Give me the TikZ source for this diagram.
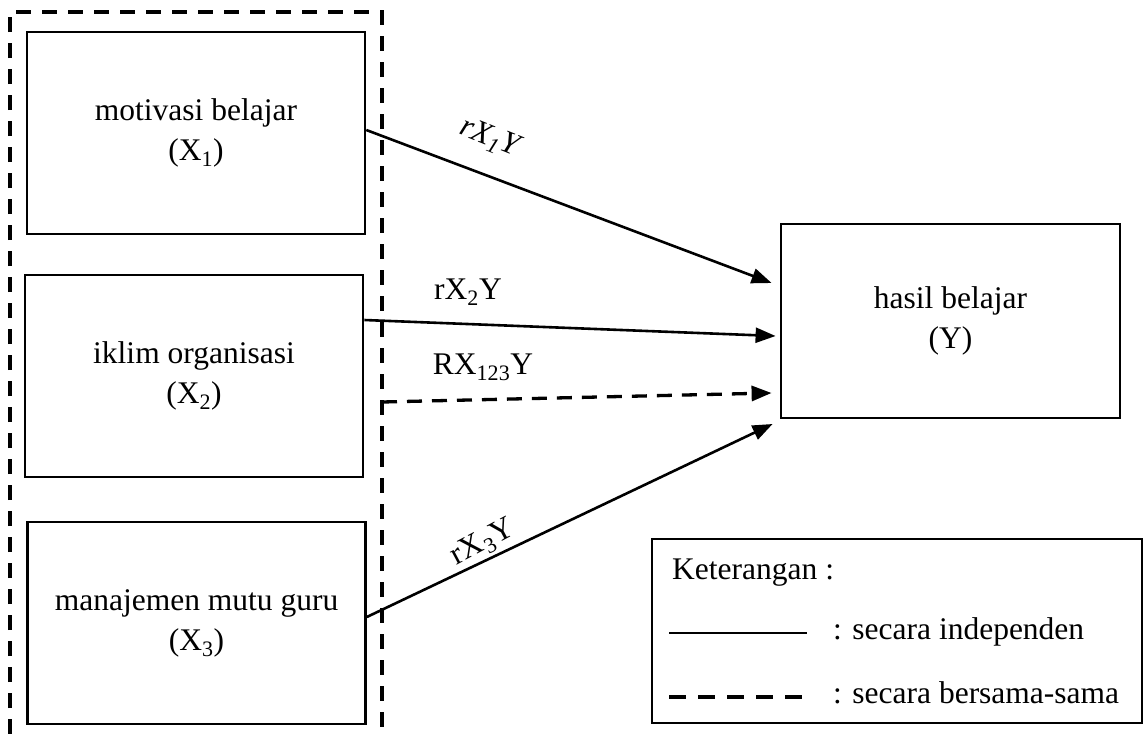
\documentclass[tikz,border=0pt]{standalone}
\usepackage{fontspec}
\setmainfont{Liberation Serif}
\usetikzlibrary{arrows.meta}
\begin{document}
\begin{tikzpicture}[x=1pt,y=-1pt,
  txt/.style={font=\fontsize{31.5}{40}\selectfont},
  varbox/.style={draw,line width=2.6pt,align=center,inner sep=0pt,
    minimum width=338pt,minimum height=202pt,txt},
  link/.style={line width=2.6pt,-{Triangle[length=20pt,width=15pt]}},
  joint/.style={line width=3.3pt,dash pattern=on 15pt off 10pt,
    -{Triangle[length=20pt,width=15pt]}},
  lbl/.style={txt,inner sep=0pt}]
\useasboundingbox (0,0) rectangle (1144,734);

% group of independent variables
\draw[line width=3.6pt,dash pattern=on 15pt off 11pt]
  (10,760) -- (10,12) -- (382,12) -- (382,760);
\coordinate (gx) at (382,402);

\node[varbox] (b1) at (196,133) {motivasi belajar\\(X\textsubscript{1})};
\node[varbox] (b2) at (194,376) {iklim organisasi\\(X\textsubscript{2})};
\node[varbox] (b3) at (196.5,623) {manajemen mutu guru\\(X\textsubscript{3})};
\node[varbox,minimum width=339pt,minimum height=194pt,line width=2.8pt]
  (y) at (950.5,321) {hasil belajar\\(Y)};

% connectors
\draw[link] ([yshift=3pt]b1.east) -- ([xshift=-8pt,yshift=38pt]y.west);
\draw[link] ([yshift=56pt]b2.east) -- ([xshift=-4pt,yshift=-15pt]y.west);
\draw[joint] (gx) -- ([xshift=-8pt,yshift=-72pt]y.west);
\draw[link] ([yshift=6pt]b3.east) -- ([xshift=-7pt,yshift=-103pt]y.west);

% path labels
\node[lbl,rotate=-22] (l1) at (489,138) {\itshape rX\textsubscript{1}Y};
\node[lbl] (l2) at (468,292) {rX\textsubscript{2}Y};
\node[lbl] (l3) at (483,367) {RX\textsubscript{123}Y};
\node[lbl,rotate=28] (l4) at (483,543) {rX\textsubscript{3}Y};

% legend
\node[draw,line width=1.5pt,minimum width=490pt,minimum height=184pt,inner sep=0pt]
  (leg) at (897,631) {};
\node[lbl,anchor=base west] (k0) at (672,579) {Keterangan :};
\coordinate (s0) at (669,633);
\coordinate (s1) at (807,633);
\draw[line width=2.4pt] (s0) -- (s1);
\node[lbl,anchor=base west] (k1) at (833,639) {: secara independen};
\coordinate (d0) at (669,697);
\coordinate (d1) at (813,697);
\draw[line width=3.3pt,dash pattern=on 17pt off 12pt] (d0) -- (d1);
\node[lbl,anchor=base west] (k2) at (833,703) {: secara bersama-sama};
\end{tikzpicture}
\end{document}
